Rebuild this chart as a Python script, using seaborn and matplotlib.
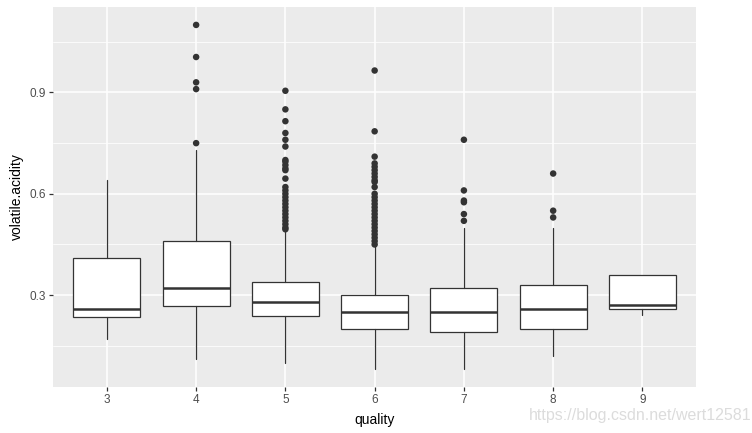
import numpy as np
import pandas as pd
import seaborn as sns
import matplotlib.pyplot as plt
from matplotlib.ticker import MultipleLocator

# box summary per quality level
quality = [3, 4, 5, 6, 7, 8, 9]
whisker_low = [0.17, 0.11, 0.10, 0.08, 0.08, 0.12, 0.24]
q1 = [0.235, 0.2675, 0.238, 0.20, 0.19, 0.20, 0.26]
median = [0.26, 0.32, 0.28, 0.25, 0.25, 0.26, 0.27]
q3 = [0.41, 0.46, 0.34, 0.30, 0.32, 0.33, 0.36]
whisker_high = [0.64, 0.73, 0.49, 0.445, 0.50, 0.50, 0.36]

# outliers per quality level
outliers_3 = []
outliers_4 = [1.10, 1.005, 0.93, 0.91, 0.75]
outliers_5 = [0.905, 0.85, 0.815, 0.78, 0.76, 0.74, 0.70, 0.695, 0.685, 0.675,
              0.67, 0.645, 0.62, 0.61, 0.60, 0.59, 0.58, 0.57, 0.56, 0.55,
              0.54, 0.53, 0.52, 0.51, 0.50, 0.495]
outliers_6 = [0.965, 0.785, 0.71, 0.69, 0.68, 0.67, 0.66, 0.65, 0.64, 0.635,
              0.62, 0.60, 0.59, 0.58, 0.57, 0.56, 0.55, 0.54, 0.53, 0.52,
              0.51, 0.50, 0.49, 0.48, 0.47, 0.46, 0.45]
outliers_7 = [0.76, 0.61, 0.58, 0.575, 0.54, 0.52]
outliers_8 = [0.66, 0.55, 0.53]
outliers_9 = []
outlier_lists = [outliers_3, outliers_4, outliers_5, outliers_6,
                 outliers_7, outliers_8, outliers_9]

sns.set_theme(style="darkgrid", rc={
    "axes.facecolor": "#EBEBEB",
    "grid.color": "white",
})
plt.rcParams["font.family"] = ["Liberation Sans", "DejaVu Sans"]

fig, ax = plt.subplots(figsize=(7.52, 4.33), dpi=100)
fig.subplots_adjust(left=0.0709, right=0.9255, bottom=0.1062, top=0.9838)

stats = []
for i in range(len(quality)):
    stats.append({
        "whislo": whisker_low[i], "q1": q1[i], "med": median[i],
        "q3": q3[i], "whishi": whisker_high[i], "fliers": [],
    })

ax.bxp(stats, positions=quality, widths=0.75, showcaps=False,
       showfliers=False, patch_artist=True,
       boxprops=dict(facecolor="white", edgecolor="#333333", linewidth=0.9),
       medianprops=dict(color="#333333", linewidth=1.8),
       whiskerprops=dict(color="#333333", linewidth=0.9),
       zorder=3)

out_df = pd.DataFrame({
    "quality": [q for q, lst in zip(quality, outlier_lists) for _ in lst],
    "volatile.acidity": [v for lst in outlier_lists for v in lst],
})
sns.scatterplot(data=out_df, x="quality", y="volatile.acidity", ax=ax,
                color="#333333", s=22, edgecolor="none", zorder=4)

ax.set_xlim(2.4, 9.6)
ax.set_ylim(0.028, 1.153)
ax.set_xticks(quality)
ax.set_xticklabels([str(q) for q in quality])
ax.yaxis.set_major_locator(MultipleLocator(0.3))
ax.yaxis.set_minor_locator(MultipleLocator(0.15))
ax.yaxis.set_major_formatter(plt.FuncFormatter(lambda v, p: f"{v:.1f}"))
ax.grid(which="major", color="white", linewidth=1.1)
ax.grid(which="minor", axis="y", color="white", linewidth=0.55)
ax.grid(which="minor", axis="x", visible=False)

ax.tick_params(axis="both", which="major", length=3, width=0.9,
               color="#333333", labelcolor="#4D4D4D", labelsize=8.5, pad=2,
               bottom=True, left=True)
ax.tick_params(axis="both", which="minor", length=0)
for s in ax.spines.values():
    s.set_visible(False)

ax.set_xlabel("quality", fontsize=10, color="black", labelpad=5)
ax.set_ylabel("volatile.acidity", fontsize=10, color="black", labelpad=4)

fig.text(0.999, 0.04, "https://blog.csdn.net/wert12581", ha="right",
         va="center", fontsize=11.5, color="#DCDCDC")

fig.savefig("out.png", dpi=100)
